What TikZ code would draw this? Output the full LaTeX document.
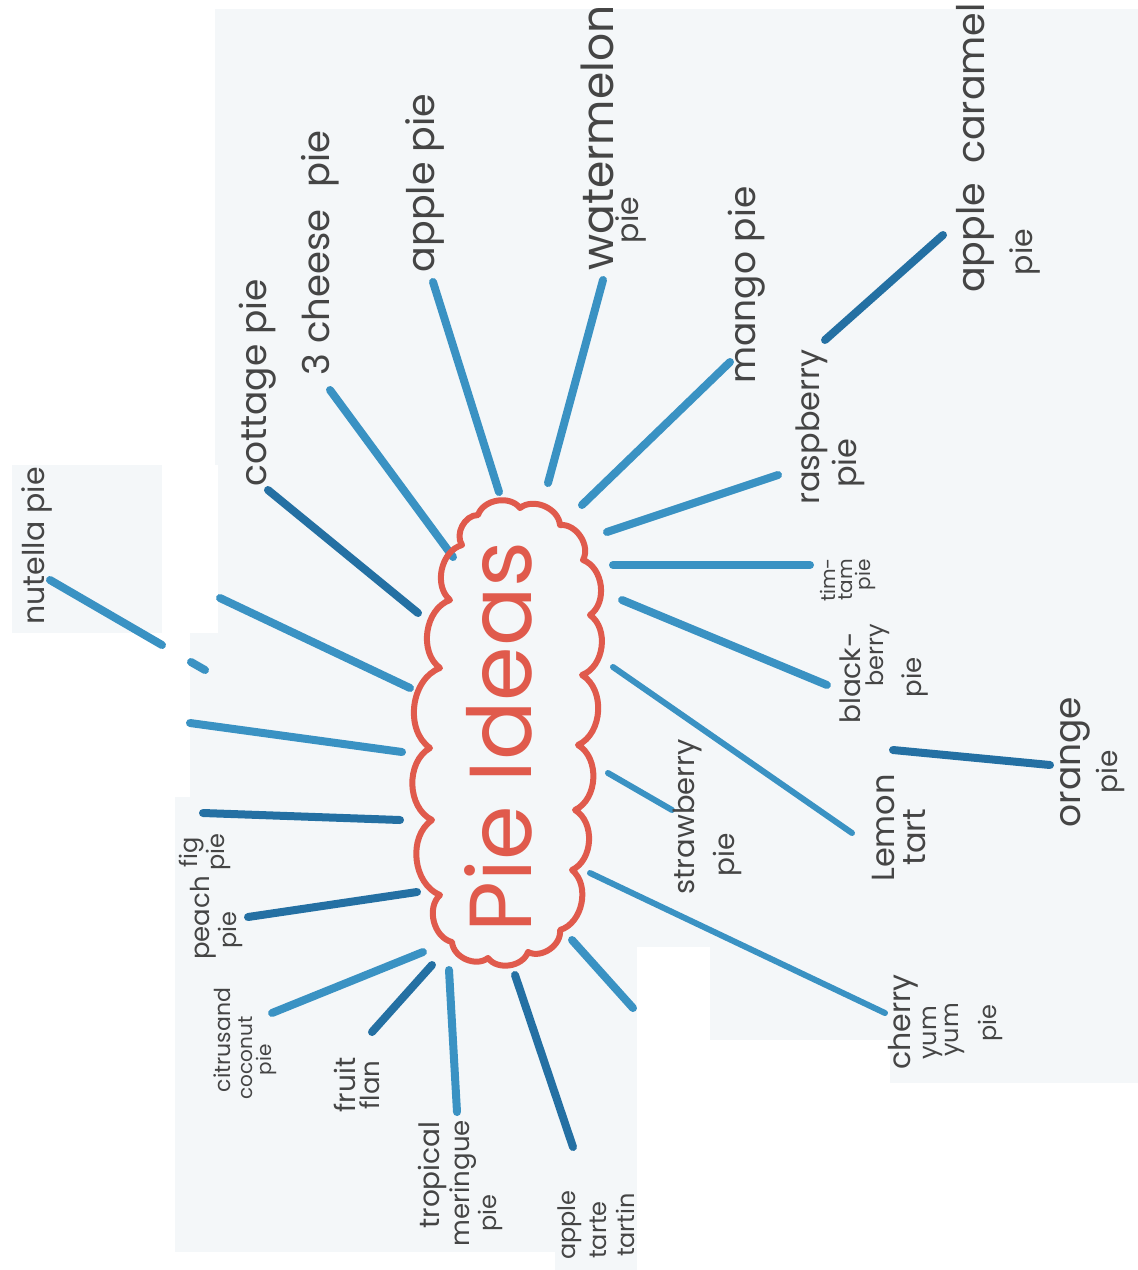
\documentclass[tikz,border=0pt]{standalone}
\usepackage{fontspec}
\setmainfont{Poppins}
\definecolor{paper}{HTML}{F4F7F9}
\definecolor{blueA}{HTML}{3A92C3}
\definecolor{blueB}{HTML}{2470A3}
\definecolor{cloudred}{HTML}{E05A4C}
\definecolor{ink}{HTML}{454545}
\begin{document}
\begin{tikzpicture}[x=1pt,y=1pt,
  ray/.style={line width=8pt, line cap=round, draw=blueA},
  rayd/.style={ray, draw=blueB},
  rayt/.style={ray, line width=6pt},
  lab/.style={text=ink, rotate=90, inner sep=0pt, font=\fontsize{#1}{#1}\selectfont},
  blank/.style={fill=white, draw=none},
  puff/.style={bend left=62}]
\useasboundingbox (0,0) rectangle (1138,-1270);
% paper and white gaps of the scan
\fill[paper] (0,0) rectangle (1138,-1270);
\fill[blank] (0,0) rectangle (1138,-9);
\fill[blank] (0,0) rectangle (215,-465);
\fill[blank] (0,-465) rectangle (12,-650);
\fill[blank] (162,-465) rectangle (218,-633);
\fill[blank] (0,-633) rectangle (190,-797);
\fill[blank] (0,-797) rectangle (175,-1270);
\fill[blank] (175,-1252) rectangle (555,-1270);
\fill[blank] (637,-947) rectangle (710,-1040);
\fill[blank] (637,-1040) rectangle (890,-1270);
\fill[blank] (890,-1083) rectangle (1138,-1270);

% ray end points
\coordinate (nutA) at (50,-580);   \coordinate (nutB) at (162,-645);
\coordinate (nutC) at (191,-662);  \coordinate (nutD) at (205,-670);
\coordinate (u1a) at (220,-598);   \coordinate (u1b) at (410,-688);
\coordinate (cotA) at (268,-490);  \coordinate (cotB) at (418,-613);
\coordinate (chA) at (330,-390);   \coordinate (chB) at (453,-557);
\coordinate (apA) at (433,-282);   \coordinate (apB) at (499,-492);
\coordinate (wmA) at (603,-280);   \coordinate (wmB) at (548,-483);
\coordinate (mgA) at (730,-362);   \coordinate (mgB) at (582,-505);
\coordinate (raA) at (778,-475);   \coordinate (raB) at (607,-532);
\coordinate (ttA) at (810,-565);   \coordinate (ttB) at (613,-565);
\coordinate (bbA) at (827,-685);   \coordinate (bbB) at (622,-600);
\coordinate (leA) at (852,-833);   \coordinate (leB) at (613,-667);
\coordinate (stA) at (672,-810);   \coordinate (stB) at (608,-773);
\coordinate (cyA) at (885,-1013);  \coordinate (cyB) at (590,-873);
\coordinate (shA) at (633,-1008);  \coordinate (shB) at (572,-940);
\coordinate (taA) at (573,-1147);  \coordinate (taB) at (515,-975);
\coordinate (trA) at (457,-1112);  \coordinate (trB) at (449,-970);
\coordinate (flA) at (372,-1032);  \coordinate (flB) at (432,-965);
\coordinate (ciA) at (272,-1013);  \coordinate (ciB) at (423,-952);
\coordinate (peA) at (248,-917);   \coordinate (peB) at (417,-892);
\coordinate (fgA) at (203,-813);   \coordinate (fgB) at (400,-820);
\coordinate (u2a) at (190,-723);   \coordinate (u2b) at (402,-752);
\coordinate (caA) at (825,-340);   \coordinate (caB) at (943,-235);
\coordinate (orA) at (893,-750);   \coordinate (orB) at (1050,-765);

% rays
\draw[ray] (nutA) -- (nutB);
\draw[ray] (nutC) -- (nutD);
\draw[ray] (u1a) -- (u1b);
\draw[rayd] (cotA) -- (cotB);
\draw[ray] (chA) -- (chB);
\draw[ray] (apA) -- (apB);
\draw[ray] (wmA) -- (wmB);
\draw[ray] (mgA) -- (mgB);
\draw[ray] (raA) -- (raB);
\draw[ray] (ttA) -- (ttB);
\draw[ray] (bbA) -- (bbB);
\draw[rayt] (leA) -- (leB);
\draw[rayt] (stA) -- (stB);
\draw[rayt] (cyA) -- (cyB);
\draw[ray] (shA) -- (shB);
\draw[rayd] (taA) -- (taB);
\draw[ray] (trA) -- (trB);
\draw[rayd] (flA) -- (flB);
\draw[ray] (ciA) -- (ciB);
\draw[rayd] (peA) -- (peB);
\draw[rayd] (fgA) -- (fgB);
\draw[ray] (u2a) -- (u2b);
\draw[rayd] (caA) -- (caB);
\draw[rayd] (orA) -- (orB);

% central cloud: cusps, clockwise
\coordinate (k1) at (462,-545);  \coordinate (k2) at (478,-515);
\coordinate (k3) at (520,-508);  \coordinate (k4) at (560,-525);
\coordinate (k5) at (583,-560);  \coordinate (k6) at (590,-615);
\coordinate (k7) at (582,-675);  \coordinate (k8) at (578,-745);
\coordinate (k9) at (575,-810);  \coordinate (k10) at (572,-870);
\coordinate (k11) at (560,-930); \coordinate (k12) at (528,-952);
\coordinate (k13) at (488,-958); \coordinate (k14) at (452,-942);
\coordinate (k15) at (440,-895); \coordinate (k16) at (432,-820);
\coordinate (k17) at (430,-748); \coordinate (k18) at (440,-668);
\coordinate (k19) at (450,-600);
\draw[cloudred, line width=6pt, line join=round]
  (k1) to[puff] (k2) to[puff] (k3) to[puff] (k4) to[puff] (k5)
  to[puff] (k6) to[puff] (k7) to[puff] (k8) to[puff] (k9)
  to[puff] (k10) to[puff] (k11) to[puff] (k12) to[puff] (k13)
  to[puff] (k14) to[puff] (k15) to[puff] (k16) to[puff] (k17)
  to[puff] (k18) to[puff] (k19) to[puff] (k1) -- cycle;
\node (title) at (498,-737) [rotate=90, text=cloudred, inner sep=0pt,
  font=\fontsize{88}{88}\selectfont] {Pie Ideas};

% labels
\node (lnut) at (37,-546) [lab=30] {nutella pie};
\node (lcot) at (258,-383) [lab=36] {cottage pie};
\node (lche) at (320,-253) [lab=37] {3 cheese\hspace{0.6em}pie};
\node (lapp) at (425,-183) [lab=38] {apple pie};
\node (lwat) at (597,-138) [lab=44] {watermelon};
\node (lwat2) at (631,-220) [lab=30] {pie};
\node (lman) at (747,-285) [lab=36] {mango pie};
\node (lcar) at (975,-148) [lab=38] {apple\hspace{0.5em}caramel};
\node (lcar2) at (1025,-252) [lab=30] {pie};
\node (lras) at (812,-427) [lab=32] {raspberry};
\node (lras2) at (848,-463) [lab=32] {pie};
\node (ltim1) at (828,-580) [lab=20] {tim-};
\node (ltim2) at (846,-580) [lab=20] {tam};
\node (ltim3) at (865,-575) [lab=20] {pie};
\node (lbla1) at (850,-678) [lab=28] {black-};
\node (lbla2) at (878,-655) [lab=24] {berry};
\node (lbla3) at (915,-677) [lab=26] {pie};
\node (llem1) at (883,-828) [lab=32] {Lemon};
\node (llem2) at (915,-837) [lab=32] {tart};
\node (lora1) at (1075,-762) [lab=36] {orange};
\node (lora2) at (1110,-772) [lab=28] {pie};
\node (lstr1) at (688,-817) [lab=29] {strawberry};
\node (lstr2) at (727,-855) [lab=28] {pie};
\node (lche1) at (903,-1022) [lab=30] {cherry};
\node (lche2) at (933,-1033) [lab=24] {yum};
\node (lche3) at (955,-1030) [lab=24] {yum};
\node (lche4) at (990,-1023) [lab=24] {pie};
\node (ltro1) at (432,-1175) [lab=28] {tropical};
\node (ltro2) at (463,-1183) [lab=26] {meringue};
\node (ltro3) at (490,-1213) [lab=24] {pie};
\node (ltat1) at (570,-1225) [lab=24] {apple};
\node (ltat2) at (598,-1230) [lab=24] {tarte};
\node (ltat3) at (625,-1225) [lab=24] {tartin};
\node (lfru1) at (345,-1085) [lab=28] {fruit};
\node (lfru2) at (370,-1085) [lab=26] {flan};
\node (lcit1) at (222,-1040) [lab=22] {citrusand};
\node (lcit2) at (246,-1058) [lab=20] {coconut};
\node (lcit3) at (266,-1060) [lab=20] {pie};
\node (lpea1) at (203,-918) [lab=26] {peach};
\node (lpea2) at (230,-930) [lab=24] {pie};
\node (lfig1) at (192,-852) [lab=24] {fig};
\node (lfig2) at (218,-852) [lab=24] {pie};
\end{tikzpicture}
\end{document}
